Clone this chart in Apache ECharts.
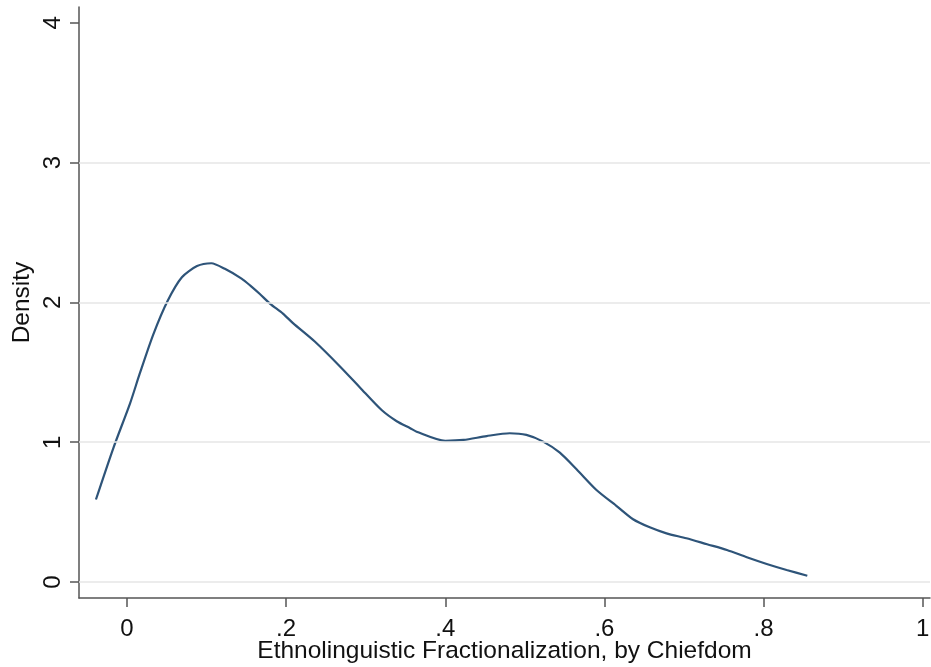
<!DOCTYPE html>
<html>
<head>
<meta charset="utf-8">
<script src="https://cdn.jsdelivr.net/npm/echarts@6/dist/echarts.min.js"></script>
<style>
html,body{margin:0;padding:0;background:#fff;}
#chart{width:931px;height:667px;}
</style>
</head>
<body>
<div id="chart"></div>
<script>
// Kernel density curve
const xValues = [-0.039, -0.017, 0.004, 0.016, 0.033, 0.051, 0.069, 0.088, 0.106, 0.123, 0.144, 0.155, 0.167, 0.180, 0.196, 0.209, 0.236, 0.268, 0.293, 0.320, 0.339, 0.356, 0.364, 0.400, 0.423, 0.452, 0.481, 0.502, 0.523, 0.544, 0.565, 0.590, 0.615, 0.636, 0.657, 0.678, 0.703, 0.729, 0.754, 0.779, 0.804, 0.829, 0.855];
const densityValues = [0.59, 0.96, 1.28, 1.49, 1.77, 2.01, 2.18, 2.26, 2.28, 2.24, 2.17, 2.12, 2.06, 1.99, 1.92, 1.85, 1.72, 1.54, 1.39, 1.23, 1.15, 1.10, 1.075, 1.01, 1.016, 1.044, 1.064, 1.052, 1.004, 0.925, 0.806, 0.658, 0.545, 0.449, 0.391, 0.348, 0.313, 0.270, 0.229, 0.177, 0.129, 0.086, 0.045];
const xTicks = [0, 0.2, 0.4, 0.6, 0.8, 1];
const xTickLabels = ['0', '.2', '.4', '.6', '.8', '1'];
const yTicks = [0, 1, 2, 3, 4];
const yGridLines = [0, 1, 2, 3];
const xTitle = 'Ethnolinguistic Fractionalization, by Chiefdom';
const yTitle = 'Density';

const FONT = '"Liberation Sans", Arial, Helvetica, sans-serif';
const points = xValues.map((x, i) => [x, densityValues[i]]);

const chart = echarts.init(document.getElementById('chart'), null, {renderer: 'canvas'});
chart.setOption({
  animation: false,
  backgroundColor: '#ffffff',
  grid: {left: 79, right: 1, top: 7, bottom: 69, containLabel: false, outerBoundsMode: 'none'},
  xAxis: {
    type: 'value',
    min: -0.0603,
    max: 1.0092,
    name: xTitle,
    nameLocation: 'middle',
    nameGap: 53,
    nameMoveOverlap: false,
    nameTextStyle: {fontFamily: FONT, fontSize: 24.5, color: '#111', verticalAlign: 'middle'},
    axisLine: {show: true, onZero: false, lineStyle: {color: '#555', width: 1.5}},
    axisTick: {show: true, length: 9, inside: false, customValues: xTicks, lineStyle: {color: '#555', width: 1.5}},
    axisLabel: {
      customValues: xTicks,
      margin: 19,
      fontFamily: FONT, fontSize: 24, color: '#111',
      formatter: v => {
        const i = xTicks.findIndex(t => Math.abs(t - v) < 1e-9);
        return i >= 0 ? xTickLabels[i] : '';
      }
    },
    splitLine: {show: false}
  },
  yAxis: {
    type: 'value',
    min: -0.1144,
    max: 4.113,
    name: yTitle,
    nameLocation: 'middle',
    nameGap: 44,
    nameMoveOverlap: false,
    nameRotate: 90,
    nameTextStyle: {fontFamily: FONT, fontSize: 24.5, color: '#111'},
    axisLine: {show: true, onZero: false, lineStyle: {color: '#555', width: 1.5}},
    axisTick: {show: true, length: 9, inside: false, customValues: yTicks, lineStyle: {color: '#555', width: 1.5}},
    axisLabel: {
      customValues: yTicks,
      rotate: 90,
      margin: 14,
      fontFamily: FONT, fontSize: 24, color: '#111',
      formatter: v => String(Math.round(v))
    },
    splitLine: {show: false}
  },
  series: [{
    type: 'line',
    data: points,
    showSymbol: false,
    smooth: 0.25,
    lineStyle: {color: '#2e5479', width: 2.2},
    markLine: {
      silent: true,
      symbol: ['none', 'none'],
      label: {show: false},
      lineStyle: {color: '#e6e6e6', width: 1.5, type: 'solid'},
      data: yGridLines.map(v => ({yAxis: v}))
    },
    z: 3
  }]
});
</script>
</body>
</html>
